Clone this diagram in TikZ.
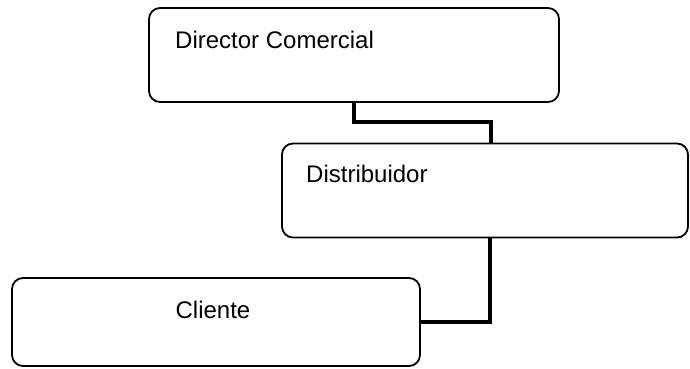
\documentclass[tikz,border=0pt]{standalone}
\usepackage{fontspec}
\setmainfont{Liberation Sans}
\begin{document}
\begin{tikzpicture}[x=1pt,y=-1pt,
    box/.style={draw=black, line width=1.8pt, rounded corners=11pt, inner sep=0pt},
    lbl/.style={inner sep=0pt, font=\fontsize{24}{28}\selectfont},
    conn/.style={draw=black, line width=4.5pt}]
  \useasboundingbox (0,0) rectangle (690,368);
  % boxes
  \node[box, minimum width=410pt, minimum height=94pt] (dc) at (354,55) {};
  \node[box, minimum width=406pt, minimum height=94pt] (dist) at (485,190.5) {};
  \node[box, minimum width=408pt, minimum height=88pt] (cli) at (216,322) {};
  % labels
  \node[lbl, anchor=base west] (tdc) at (175,48) {Director Comercial};
  \node[lbl, anchor=base west] (tdist) at (306,182) {Distribuidor};
  \node[lbl, anchor=base] (tcli) at (213,318) {Cliente};
  % connectors
  \coordinate (j1) at (491,122);
  \coordinate (j2) at (490,0);
  \draw[conn] (dc.south) |- (j1) -- (j1 |- dist.north);
  \draw[conn] (j2 |- dist.south) |- (cli.east);
\end{tikzpicture}
\end{document}
